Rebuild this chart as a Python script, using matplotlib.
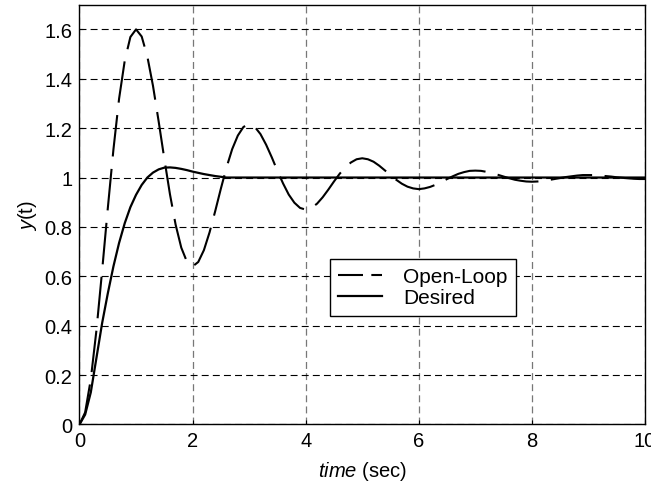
import numpy as np
import matplotlib
matplotlib.use("Agg")
import matplotlib.pyplot as plt
from matplotlib.lines import Line2D

plt.rcParams['font.family'] = ['Liberation Sans', 'DejaVu Sans']
plt.rcParams['mathtext.fontset'] = 'custom'
plt.rcParams['mathtext.rm'] = 'Liberation Sans'
plt.rcParams['mathtext.it'] = 'Liberation Sans:italic'
plt.rcParams['lines.scale_dashes'] = False

# open-loop step response, read every 0.1 s
t_open = np.round(np.arange(0, 10.01, 0.1), 1)
y_open = [
    0.000, 0.049, 0.183, 0.382, 0.622, 0.874, 1.113, 1.319, 1.473, 1.569,
    1.600, 1.571, 1.490, 1.371, 1.227, 1.076, 0.932, 0.809, 0.716, 0.659,
    0.640, 0.658, 0.706, 0.778, 0.864, 0.955, 1.041, 1.115, 1.170, 1.205,
    1.216, 1.205, 1.176, 1.133, 1.082, 1.027, 0.976, 0.931, 0.898, 0.877,
    0.870, 0.877, 0.894, 0.920, 0.951, 0.984, 1.015, 1.041, 1.061, 1.074,
    1.078, 1.074, 1.064, 1.048, 1.029, 1.010, 0.991, 0.975, 0.963, 0.956,
    0.953, 0.956, 0.962, 0.971, 0.982, 0.994, 1.005, 1.015, 1.022, 1.027,
    1.028, 1.027, 1.023, 1.017, 1.011, 1.004, 0.997, 0.991, 0.987, 0.984,
    0.983, 0.984, 0.986, 0.990, 0.994, 0.998, 1.002, 1.005, 1.008, 1.010,
    1.010, 1.010, 1.008, 1.006, 1.004, 1.001, 0.999, 0.997, 0.995, 0.994,
    0.994,
]

# desired response
t_des = [0.0, 0.1, 0.2, 0.3, 0.4, 0.5, 0.6, 0.7, 0.8, 0.9, 1.0, 1.1, 1.2, 1.3,
         1.4, 1.5, 1.6, 1.7, 1.8, 1.9, 2.0, 2.1, 2.2, 2.3, 2.4, 2.5, 2.6, 10.0]
y_des = [0.0, 0.04, 0.13, 0.27, 0.41, 0.53, 0.64, 0.735, 0.815, 0.88, 0.93,
         0.97, 1.0, 1.02, 1.033, 1.04, 1.041, 1.039, 1.035, 1.03, 1.024, 1.019,
         1.014, 1.01, 1.006, 1.003, 1.0, 1.0]

xticks = [0, 2, 4, 6, 8, 10]
yticks = [0, 0.2, 0.4, 0.6, 0.8, 1, 1.2, 1.4, 1.6]
ytick_labels = ["0", "0.2", "0.4", "0.6", "0.8", "1", "1.2", "1.4", "1.6"]

fig = plt.figure(figsize=(6.51, 4.89), dpi=100)
ax = fig.add_axes([0.1221, 0.1299, 0.8687, 0.8585])

ax.plot(t_open, y_open, color='black', lw=1.5, linestyle=(0, (30, 9)))
ax.plot(t_des, y_des, color='black', lw=1.6)

ax.set_xlim(0, 10)
ax.set_ylim(0, 1.7)
ax.set_xticks(xticks)
ax.set_yticks(yticks)
ax.set_yticklabels(ytick_labels)
ax.tick_params(direction='in', length=3, labelsize=14.5, pad=5)

ax.yaxis.grid(True, color='black', lw=0.8, linestyle=(0, (5, 3)))
ax.xaxis.grid(True, color='#777777', lw=0.9, linestyle=(0, (5, 3)))
for s in ax.spines.values():
    s.set_linewidth(1.0)

ax.set_xlabel(r"$\mathit{time}$ (sec)", fontsize=14.5, labelpad=6)
ax.set_ylabel(r"$\mathit{y}$(t)", fontsize=14.5, labelpad=4)

h_open = Line2D([], [], color='black', lw=1.5, linestyle=(0, (18, 6)))
h_des = Line2D([], [], color='black', lw=1.6)
leg = ax.legend([h_open, h_des], ["Open-Loop", "Desired"], loc='upper left',
                bbox_to_anchor=(330 / 651, 1 - 260 / 489),
                bbox_transform=fig.transFigure, borderaxespad=0,
                fancybox=False, edgecolor='black', framealpha=1,
                fontsize=15, handlelength=2.1, handletextpad=1.0,
                labelspacing=0.1, borderpad=0.4)
leg.get_frame().set_linewidth(1.0)

fig.savefig("out.png", dpi=100)
